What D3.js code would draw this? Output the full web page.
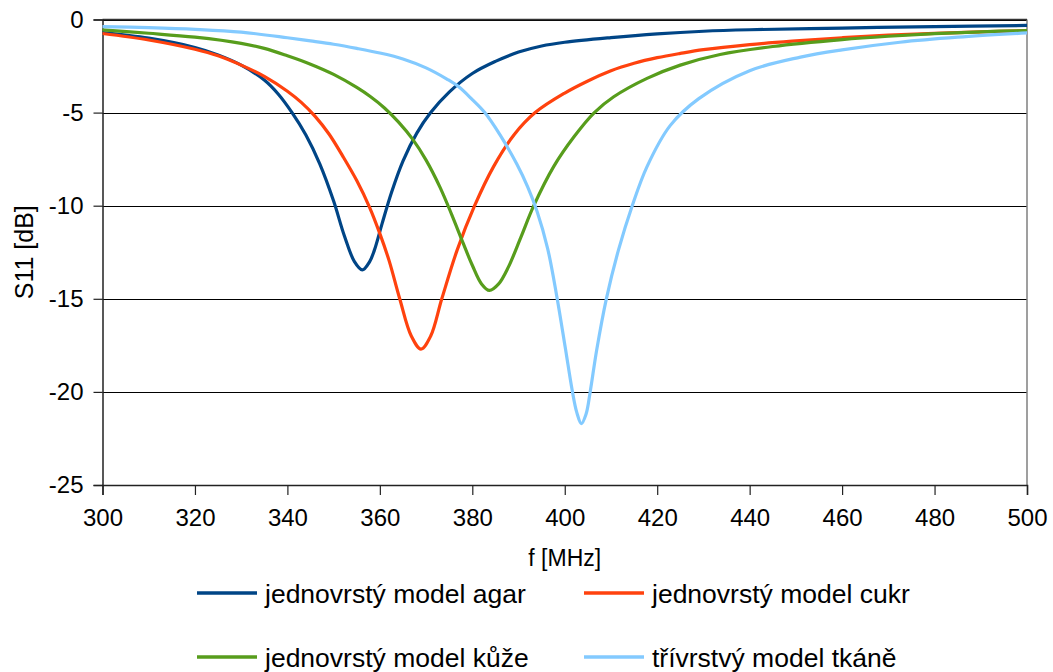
<!DOCTYPE html>
<html>
<head>
<meta charset="utf-8">
<script src="https://cdn.jsdelivr.net/npm/d3@7"></script>
<style>
  html, body { margin: 0; padding: 0; background: #fff; }
  svg { display: block; font-family: "Liberation Sans", Arial, sans-serif; }
</style>
</head>
<body>
<div id="chart"></div>
<script>
// ---- data ----
const seriesNames = ["jednovrstý model agar", "jednovrstý model cukr", "jednovrstý model kůže", "třívrstvý model tkáně"];
const seriesColors = ["#004586", "#ff420e", "#579d1c", "#83caff"];

const agarF  = [300, 310, 320, 325, 330, 335, 338, 341, 344, 347, 350, 352.3, 354.5, 356.2, 357.8, 358.8, 360.5, 362.5, 365, 368, 371, 375, 380, 385, 390, 395, 400, 410, 420, 430, 440, 460, 480, 500];
const agarDb = [-0.7, -1.0, -1.5, -1.9, -2.45, -3.25, -4.0, -5.0, -6.2, -7.75, -9.75, -11.6, -13.0, -13.45, -13.0, -12.4, -10.95, -9.3, -7.6, -6.1, -5.0, -3.9, -2.9, -2.25, -1.75, -1.42, -1.22, -0.97, -0.77, -0.63, -0.55, -0.46, -0.38, -0.32];

const cukrF  = [300, 310, 320, 325, 330, 335, 340, 343, 346, 349, 352, 355, 357.8, 360, 362, 364.3, 366.8, 368.9, 371, 373.4, 376.7, 380.5, 384.6, 389, 393.6, 400, 405, 410, 415, 420, 425, 430, 440, 450, 460, 470, 480, 490, 500];
const cukrDb = [-0.75, -1.1, -1.6, -1.95, -2.45, -3.05, -3.85, -4.45, -5.2, -6.15, -7.35, -8.65, -10.1, -11.5, -12.95, -15, -17.0, -17.7, -17.0, -15, -12.4, -10, -7.9, -6.2, -5, -3.95, -3.3, -2.75, -2.35, -2.05, -1.82, -1.62, -1.35, -1.15, -0.98, -0.84, -0.74, -0.66, -0.6];

const kuzeF  = [300, 310, 320, 330, 335, 340, 345, 350, 355, 358, 361, 364, 367, 370, 373, 375.5, 378, 380, 382, 383.7, 385.7, 387.8, 390.5, 393.3, 397.6, 402, 406.4, 410.6, 417.8, 425, 433.6, 445, 460, 470, 480, 490, 500];
const kuzeDb = [-0.56, -0.74, -0.95, -1.28, -1.55, -1.95, -2.4, -2.95, -3.65, -4.15, -4.75, -5.5, -6.4, -7.55, -9.0, -10.45, -12.0, -13.2, -14.2, -14.55, -14.2, -13.3, -11.7, -10, -7.9, -6.3, -5.0, -4.15, -3.16, -2.45, -1.88, -1.45, -1.08, -0.9, -0.76, -0.66, -0.59];

const tkaneF  = [300, 310, 320, 330, 340, 345, 350, 355, 360, 365, 370, 374.5, 377, 380, 382.7, 386, 389.6, 392, 394, 396.3, 398.3, 400.1, 401.6, 402.6, 403.6, 404.6, 405.5, 406.9, 409, 411.6, 414.6, 417.8, 422.8, 429, 440, 451, 460, 472.5, 485, 500];
const tkaneDb = [-0.38, -0.44, -0.53, -0.68, -0.98, -1.15, -1.33, -1.55, -1.8, -2.12, -2.6, -3.2, -3.6, -4.3, -5.0, -6.2, -7.75, -9.0, -10.3, -12.3, -14.9, -17.6, -19.9, -21.1, -21.7, -21.2, -20, -17.76, -15, -12.4, -10, -7.9, -5.7, -4.25, -2.75, -2.02, -1.63, -1.22, -0.95, -0.72];

const xTicks = [300, 320, 340, 360, 380, 400, 420, 440, 460, 480, 500];
const yTicks = [0, -5, -10, -15, -20, -25];
const xTitle = "f [MHz]";
const yTitle = "S11 [dB]";

const seriesData = [
  agarF.map((f, i) => [f, agarDb[i]]),
  cukrF.map((f, i) => [f, cukrDb[i]]),
  kuzeF.map((f, i) => [f, kuzeDb[i]]),
  tkaneF.map((f, i) => [f, tkaneDb[i]])
];

// ---- layout ----
const W = 1053, H = 672;
const plot = { left: 102.5, right: 1027, top: 19.5, bottom: 485 };

const svg = d3.select("#chart").append("svg")
  .attr("width", W).attr("height", H);

const x = d3.scaleLinear().domain([300, 500]).range([plot.left, plot.right]);
const y = d3.scaleLinear().domain([-25, 0]).range([plot.bottom, plot.top]);

// grid lines
svg.append("g").selectAll("line").data(yTicks).join("line")
  .attr("x1", plot.left).attr("x2", plot.right)
  .attr("y1", d => Math.round(y(d)) + 0.5).attr("y2", d => Math.round(y(d)) + 0.5)
  .attr("stroke", "#000").attr("stroke-width", 1.2);

// right border
svg.append("line")
  .attr("x1", plot.right).attr("x2", plot.right)
  .attr("y1", plot.top).attr("y2", plot.bottom)
  .attr("stroke", "#7f7f7f").attr("stroke-width", 1.5);
// top border
svg.append("line")
  .attr("x1", plot.left).attr("x2", plot.right)
  .attr("y1", plot.top).attr("y2", plot.top)
  .attr("stroke", "#333").attr("stroke-width", 1.5);

// axes
const fmt = d => String(d);
const xAxis = d3.axisBottom(x).tickValues(xTicks).tickSize(10).tickPadding(14).tickFormat(fmt);
const gx = svg.append("g").attr("transform", `translate(0,${plot.bottom})`).call(xAxis);
gx.select(".domain").attr("stroke", "#222").attr("stroke-width", 1.5);
gx.selectAll(".tick line").attr("stroke", "#222").attr("stroke-width", 1.2);
gx.selectAll(".tick text").attr("font-size", 24).attr("fill", "#000")
  .attr("font-family", "Liberation Sans, Arial, sans-serif");

const yAxis = d3.axisLeft(y).tickValues(yTicks).tickSize(9).tickPadding(10).tickFormat(fmt);
const gy = svg.append("g").attr("transform", `translate(${plot.left},0)`).call(yAxis);
gy.select(".domain").attr("stroke", "#222").attr("stroke-width", 1.5);
gy.selectAll(".tick line").attr("stroke", "#222").attr("stroke-width", 1.2);
gy.selectAll(".tick text").attr("font-size", 24).attr("fill", "#000")
  .attr("font-family", "Liberation Sans, Arial, sans-serif");

// clip
svg.append("clipPath").attr("id", "clip").append("rect")
  .attr("x", plot.left).attr("y", plot.top - 3)
  .attr("width", plot.right - plot.left).attr("height", plot.bottom - plot.top + 3);

const line = d3.line()
  .x(d => x(d[0])).y(d => y(d[1]))
  .curve(d3.curveCatmullRom.alpha(0.5));

svg.append("g").attr("clip-path", "url(#clip)")
  .selectAll("path").data(seriesData).join("path")
  .attr("d", line)
  .attr("fill", "none")
  .attr("stroke", (d, i) => seriesColors[i])
  .attr("stroke-width", 3.2)
  .attr("stroke-linejoin", "round")
  .attr("stroke-linecap", "round");

// axis titles
svg.append("text")
  .attr("x", (plot.left + plot.right) / 2).attr("y", 566)
  .attr("text-anchor", "middle").attr("font-size", 23).attr("fill", "#000")
  .text(xTitle);

svg.append("text")
  .attr("transform", `translate(33,${(plot.top + plot.bottom) / 2}) rotate(-90)`)
  .attr("text-anchor", "middle").attr("font-size", 25).attr("fill", "#000")
  .text(yTitle);

// legend
const legPos = [[197, 593], [584, 593], [197, 657], [584, 657]];
const leg = svg.append("g").selectAll("g").data(seriesNames).join("g")
  .attr("transform", (d, i) => `translate(${legPos[i][0]},${legPos[i][1]})`);
leg.append("line")
  .attr("x1", 0).attr("x2", 60).attr("y1", 0).attr("y2", 0)
  .attr("stroke", (d, i) => seriesColors[i]).attr("stroke-width", 3.5);
leg.append("text")
  .attr("x", 68).attr("y", 9.5)
  .attr("font-size", 26.5).attr("fill", "#000")
  .text(d => d);
</script>
</body>
</html>
